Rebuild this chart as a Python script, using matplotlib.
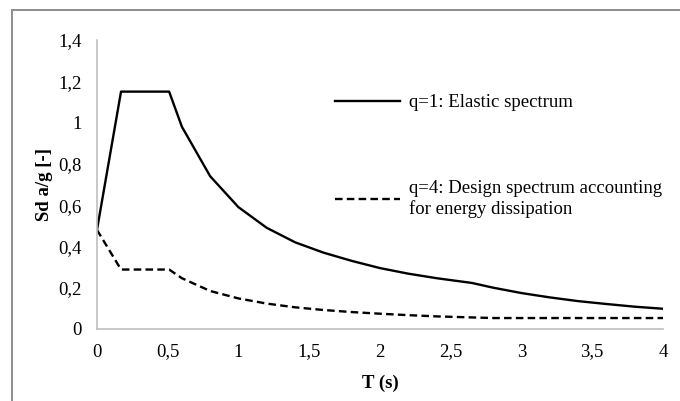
import matplotlib
matplotlib.use("Agg")
import matplotlib.pyplot as plt
from matplotlib.lines import Line2D
from matplotlib.ticker import FuncFormatter

plt.rcParams["font.family"] = "Liberation Serif"

# periods (s) and spectral ordinates
period = [0, 0.17, 0.51, 0.6, 0.8, 1.0, 1.2, 1.4, 1.6, 1.8, 2.0, 2.2, 2.4, 2.65,
          2.8, 3.0, 3.2, 3.4, 3.6, 3.8, 4.0]
elastic = [0.48, 1.15, 1.15, 0.98, 0.74, 0.59, 0.49, 0.42, 0.37, 0.33, 0.295, 0.268,
           0.246, 0.223, 0.2, 0.174, 0.153, 0.135, 0.121, 0.108, 0.098]
design = [0.48, 0.288, 0.288, 0.246, 0.184, 0.148, 0.123, 0.105, 0.092, 0.082, 0.074,
          0.067, 0.061, 0.056, 0.053, 0.053, 0.053, 0.053, 0.053, 0.053, 0.053]

labels = ["q=1: Elastic spectrum",
          "q=4: Design spectrum accounting\nfor energy dissipation"]

y_ticks = [0, 0.2, 0.4, 0.6, 0.8, 1.0, 1.2, 1.4]
x_ticks = [0, 0.5, 1, 1.5, 2, 2.5, 3, 3.5, 4]

FS = 13.5

fig = plt.figure(figsize=(6.8, 4.01), dpi=100)
ax = fig.add_axes([0.1426, 0.1796, 0.8324, 0.7206])

ax.plot(period, elastic, color="black", linewidth=1.7, label=labels[0])
ax.plot(period, design, color="black", linewidth=1.7, linestyle=(0, (3.2, 1.8)), label=labels[1])

ax.set_xlim(0, 4)
ax.set_ylim(0, 1.4)
ax.set_xticks(x_ticks)
ax.set_yticks(y_ticks)

comma = FuncFormatter(lambda v, _: f"{v:g}".replace(".", ","))
ax.xaxis.set_major_formatter(comma)
ax.yaxis.set_major_formatter(comma)
ax.tick_params(axis="y", length=0, labelsize=FS, pad=11)
ax.tick_params(axis="x", length=0, labelsize=FS, pad=10.5)

for side in ("top", "right"):
    ax.spines[side].set_visible(False)
for side in ("left", "bottom"):
    ax.spines[side].set_color("#bfbfbf")
    ax.spines[side].set_linewidth(1.2)

ax.set_xlabel("T (s)", fontsize=FS, fontweight="bold", labelpad=10)
ax.set_ylabel("Sd a/g [-]", fontsize=FS, fontweight="bold", labelpad=4)

ax.legend(loc="upper left", bbox_to_anchor=(0.4205, 0.812), frameon=False, fontsize=FS,
          handlelength=3.47, handletextpad=0.48, labelspacing=3.67, borderaxespad=0,
          borderpad=0)

# outer chart frame (only top and left edges visible in the crop)
fig.add_artist(Line2D([12 / 680, 12 / 680], [0, 1 - 10 / 401], color="#8c8c8c",
                      linewidth=1.4, transform=fig.transFigure))
fig.add_artist(Line2D([12 / 680, 1], [1 - 10 / 401, 1 - 10 / 401], color="#8c8c8c",
                      linewidth=1.4, transform=fig.transFigure))

fig.savefig("out.png", dpi=100)
